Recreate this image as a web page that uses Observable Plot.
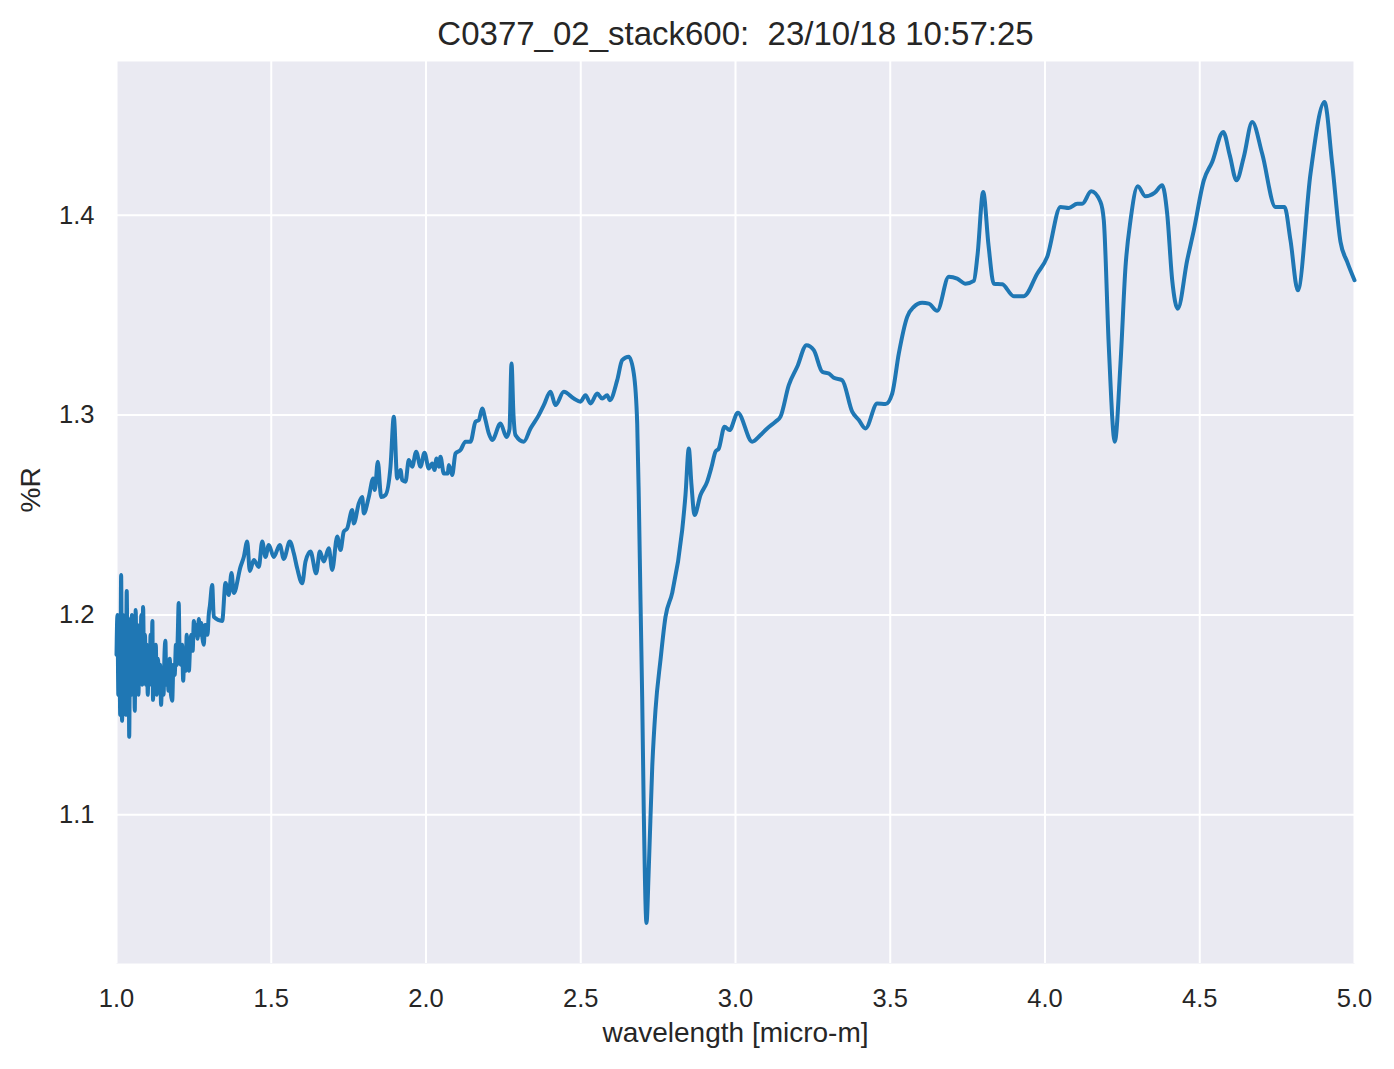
<!DOCTYPE html>
<html>
<head>
<meta charset="utf-8">
<script src="https://cdn.jsdelivr.net/npm/d3@7"></script>
<script src="https://cdn.jsdelivr.net/npm/@observablehq/plot@0.6"></script>
<style>
  html, body { margin: 0; padding: 0; background: white; }
  #chart svg { display: block; }
</style>
</head>
<body>
<div id="chart"></div>
<script>
const title = "C0377_02_stack600:  23/10/18 10:57:25";
const xLabel = "wavelength [micro-m]";
const yLabel = "%R";
const xTicks = [1.0, 1.5, 2.0, 2.5, 3.0, 3.5, 4.0, 4.5, 5.0];
const yTicks = [1.1, 1.2, 1.3, 1.4];

const wavelength = [
  1.000, 1.003, 1.006, 1.009, 1.012, 1.015, 1.018, 1.021, 1.024, 1.027,
  1.030, 1.033, 1.036, 1.039, 1.041, 1.044, 1.047, 1.050, 1.053, 1.056,
  1.059, 1.062, 1.065, 1.068, 1.071, 1.074, 1.077, 1.080, 1.083, 1.086,
  1.089, 1.092, 1.095, 1.098, 1.101, 1.104, 1.107, 1.110, 1.113, 1.116,
  1.118, 1.121, 1.124, 1.127, 1.130, 1.134, 1.138, 1.141, 1.144, 1.148,
  1.152, 1.155, 1.158, 1.161, 1.165, 1.168, 1.172, 1.176, 1.180, 1.184,
  1.188, 1.192, 1.195, 1.198, 1.201, 1.204, 1.208, 1.212, 1.2155, 1.219,
  1.223, 1.227, 1.230, 1.234, 1.238, 1.242, 1.246, 1.250, 1.254, 1.258,
  1.262, 1.266, 1.270, 1.274, 1.278, 1.282, 1.286, 1.290, 1.294, 1.298,
  1.302, 1.3092, 1.3144, 1.3415, 1.3522, 1.3628, 1.3716, 1.379, 1.4006, 1.4113,
  1.4223, 1.4307, 1.4436, 1.4598, 1.4708, 1.4814, 1.4921, 1.5082, 1.5276, 1.5405,
  1.5599, 1.5729, 1.5838, 1.600, 1.6107, 1.6268, 1.6452, 1.6569, 1.6698, 1.6859,
  1.6969, 1.7131, 1.7237, 1.7344, 1.7454, 1.7616, 1.7667, 1.7829, 1.7939, 1.7991,
  1.8152, 1.8294, 1.8346, 1.8443, 1.8552, 1.8691, 1.8853, 1.896, 1.9069, 1.9176,
  1.9231, 1.9338, 1.9444, 1.9554, 1.9683, 1.9822, 1.9952, 2.009, 2.020, 2.0275,
  2.0339, 2.0414, 2.0468, 2.0575, 2.0704, 2.0737, 2.0846, 2.0953, 2.1115, 2.1276,
  2.1438, 2.160, 2.1706, 2.1816, 2.1922, 2.2029, 2.2139, 2.2407, 2.2601, 2.2698,
  2.2763, 2.2827, 2.2892, 2.316, 2.3376, 2.3645, 2.3806, 2.4023, 2.4184, 2.4453,
  2.4776, 2.4992, 2.5153, 2.5315, 2.5532, 2.5693, 2.5854, 2.5939, 2.6178, 2.6339,
  2.6552, 2.6714, 2.6824, 2.6875, 2.693, 2.6986, 2.7037, 2.7124, 2.720, 2.731,
  2.7415, 2.7577, 2.7738, 2.7955, 2.8278, 2.8384, 2.8491, 2.8578, 2.8675, 2.8869,
  2.9086, 2.9225, 2.9354, 2.9461, 2.9645, 2.9806, 3.0074, 3.0539, 3.0808, 3.1024,
  3.1292, 3.1454, 3.1722, 3.1994, 3.2294, 3.253, 3.2802, 3.3015, 3.3176, 3.3447,
  3.377, 3.3985, 3.420, 3.4578, 3.4847, 3.5063, 3.5276, 3.5548, 3.575, 3.6032,
  3.6245, 3.6517, 3.6891, 3.7163, 3.7431, 3.770, 3.7819, 3.8003, 3.8175, 3.8346,
  3.8617, 3.8992, 3.9315, 3.9748, 4.0071, 4.0501, 4.0769, 4.1041, 4.1202, 4.1493,
  4.1793, 4.190, 4.2062, 4.2255, 4.2439, 4.2601, 4.2763, 4.2998, 4.3247, 4.3538,
  4.3787, 4.3948, 4.411, 4.4291, 4.4594, 4.4808, 4.5131, 4.5402, 4.5758, 4.5971,
  4.6187, 4.6423, 4.6694, 4.7018, 4.7447, 4.7738, 4.7932, 4.8168, 4.8578, 4.903,
  4.9279, 4.9548, 4.9764, 5.000
];

const reflectance = [
  1.180, 1.200, 1.160, 1.190, 1.150, 1.220, 1.147, 1.200, 1.160, 1.195,
  1.150, 1.212, 1.170, 1.198, 1.139, 1.190, 1.160, 1.200, 1.170, 1.190,
  1.152, 1.2025, 1.165, 1.195, 1.160, 1.190, 1.170, 1.200, 1.165, 1.204,
  1.175, 1.190, 1.165, 1.185, 1.160, 1.180, 1.165, 1.190, 1.170, 1.197,
  1.1575, 1.180, 1.165, 1.185, 1.160, 1.178, 1.165, 1.175, 1.155, 1.170,
  1.160, 1.180, 1.187, 1.165, 1.175, 1.162, 1.178, 1.160, 1.157, 1.175,
  1.170, 1.185, 1.175, 1.190, 1.206, 1.180, 1.175, 1.185, 1.167, 1.180,
  1.172, 1.190, 1.180, 1.172, 1.185, 1.190, 1.182, 1.197, 1.190, 1.195,
  1.188, 1.198, 1.190, 1.196, 1.188, 1.185, 1.195, 1.195, 1.190, 1.200,
  1.205, 1.215, 1.199, 1.197, 1.216, 1.210, 1.221, 1.211, 1.224, 1.229,
  1.2367, 1.222, 1.2275, 1.224, 1.2367, 1.229, 1.235, 1.229, 1.235, 1.228,
  1.2367, 1.2308, 1.2233, 1.2158, 1.2267, 1.2317, 1.2208, 1.2317, 1.2267, 1.2333,
  1.2225, 1.2392, 1.2325, 1.2417, 1.2433, 1.2525, 1.2458, 1.2558, 1.259, 1.2508,
  1.259, 1.2683, 1.2625, 1.2767, 1.259, 1.260, 1.2742, 1.2992, 1.2683, 1.2725,
  1.2675, 1.2667, 1.2775, 1.2742, 1.2817, 1.2742, 1.2812, 1.2733, 1.2758, 1.2725,
  1.2783, 1.2742, 1.2792, 1.2708, 1.2708, 1.275, 1.270, 1.2808, 1.2825, 1.2867,
  1.2867, 1.2967, 1.2975, 1.3033, 1.2975, 1.2908, 1.2875, 1.2958, 1.289, 1.293,
  1.3258, 1.300, 1.290, 1.2867, 1.2933, 1.300, 1.305, 1.3117, 1.305, 1.3117,
  1.3083, 1.3067, 1.310, 1.3058, 1.3108, 1.3083, 1.310, 1.3075, 1.3175, 1.3275,
  1.3292, 1.3208, 1.2958, 1.259, 1.2075, 1.1575, 1.101, 1.0458, 1.074, 1.124,
  1.1525, 1.1775, 1.199, 1.211, 1.2425, 1.260, 1.2833, 1.265, 1.250, 1.260,
  1.2667, 1.274, 1.2817, 1.2833, 1.2942, 1.2925, 1.3012, 1.2867, 1.290, 1.2933,
  1.2967, 1.2992, 1.315, 1.3242, 1.335, 1.3325, 1.3217, 1.3208, 1.3187, 1.3175,
  1.3017, 1.2975, 1.2933, 1.3058, 1.3055, 1.3108, 1.3308, 1.3492, 1.354, 1.3562,
  1.3558, 1.3522, 1.3692, 1.3683, 1.3658, 1.3672, 1.380, 1.4117, 1.385, 1.3658,
  1.3655, 1.3595, 1.3595, 1.3708, 1.3792, 1.4042, 1.4037, 1.4058, 1.4058, 1.412,
  1.4067, 1.3975, 1.3342, 1.2867, 1.3258, 1.3742, 1.3975, 1.4145, 1.4095, 1.4112,
  1.415, 1.4008, 1.3675, 1.3533, 1.3775, 1.3925, 1.4175, 1.4267, 1.4417, 1.430,
  1.4175, 1.4292, 1.4467, 1.4308, 1.4042, 1.4042, 1.3875, 1.3625, 1.4208, 1.4567,
  1.4258, 1.3867, 1.3767, 1.3675
];

const data = wavelength.map((w, i) => ({w, r: reflectance[i]}));
const fmt = d => d.toFixed(1);
const font = "'Liberation Sans', Arial, Helvetica, sans-serif";

const chart = Plot.plot({
  width: 1394,
  height: 1069,
  marginTop: 61,
  marginBottom: 106,
  marginLeft: 116,
  marginRight: 40,
  style: {fontFamily: font, fontSize: "25.5px", color: "#262626", background: "white"},
  x: {domain: [1, 5], label: null},
  y: {domain: [1.0255, 1.477], label: null},
  marks: [
    Plot.frame({fill: "#EAEAF2", stroke: null}),
    Plot.gridX(xTicks, {stroke: "white", strokeOpacity: 1, strokeWidth: 2}),
    Plot.gridY(yTicks, {stroke: "white", strokeOpacity: 1, strokeWidth: 2}),
    Plot.axisX(xTicks, {tickSize: 0, tickPadding: 25, tickFormat: fmt, label: null, fill: "#262626", fontSize: 25.5}),
    Plot.axisY(yTicks, {tickSize: 0, tickPadding: 22, tickFormat: fmt, label: null, fill: "#262626", fontSize: 25.5}),
    Plot.line(data, {x: "w", y: "r", stroke: "#1f77b4", strokeWidth: 4, curve: "monotone-x"}),
    Plot.text([title], {frameAnchor: "top", dy: -40, fontSize: 33, fill: "#262626"}),
    Plot.text([xLabel], {frameAnchor: "bottom", dy: 78, fontSize: 28, fill: "#262626"}),
    Plot.text([yLabel], {frameAnchor: "left", dx: -85, rotate: -90, fontSize: 28, fill: "#262626"})
  ]
});
document.getElementById("chart").appendChild(chart);
</script>
</body>
</html>
